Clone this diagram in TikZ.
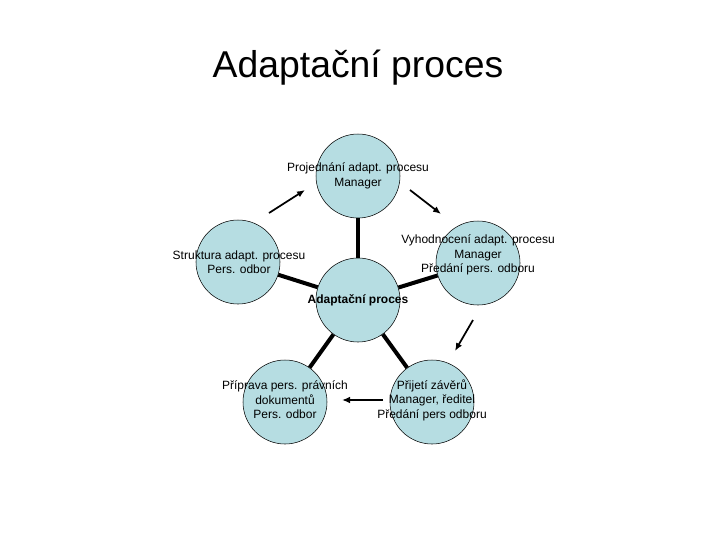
\documentclass[tikz,border=0pt]{standalone}
\usepackage{fontspec}
\setmainfont{Liberation Sans}
\begin{document}
\begin{tikzpicture}[x=0.75pt,y=-0.75pt,
  circ/.style={circle,draw=black,fill={rgb,255:red,182;green,221;blue,226},minimum size=63pt,inner sep=0pt},
  lbl/.style={align=center,font=\fontsize{9}{10.9}\selectfont,inner sep=0pt},
  spoke/.style={line width=3pt},
  arr/.style={line width=1.3pt,-{Latex[length=6pt,width=5pt]}}]
\usetikzlibrary{arrows.meta}
\useasboundingbox (0,0) rectangle (720,540);
\node[font=\fontsize{28}{30}\selectfont] (title) at (358,68) {Adaptační proces};
\node[circ] (t) at (358,176) {};
\node[circ] (l) at (238,262) {};
\node[circ] (r) at (478,263) {};
\node[circ] (bl) at (285,402) {};
\node[circ] (br) at (432,402) {};
\node[circ] (c) at (358,300) {};
\draw[spoke] (c) -- (t);
\draw[spoke] (c) -- (l);
\draw[spoke] (c) -- (r);
\draw[spoke] (c) -- (bl);
\draw[spoke] (c) -- (br);
\node[lbl] (tt) at (358,176) {Projednání adapt. procesu\\Manager};
\node[lbl] (lt) at (239,262) {Struktura adapt. procesu\\Pers. odbor};
\node[lbl] (rt) at (478,255) {Vyhodnocení adapt. procesu\\Manager\\Předání pers. odboru};
\node[lbl,font=\fontsize{9}{10.9}\selectfont\bfseries] (ct) at (358,300) {Adaptační proces};
\node[lbl] (blt) at (285,400) {Příprava pers. právních\\dokumentů\\Pers. odbor};
\node[lbl] (brt) at (432,400) {Přijetí závěrů\\Manager, ředitel\\Předání pers odboru};
\coordinate (a1s) at (269,213); \coordinate (a1e) at (305,190);
\coordinate (a2s) at (410,190); \coordinate (a2e) at (441,214);
\coordinate (a3s) at (473,320); \coordinate (a3e) at (455,351);
\coordinate (a4s) at (383,400); \coordinate (a4e) at (342,400);
\draw[arr] (a1s) -- (a1e);
\draw[arr] (a2s) -- (a2e);
\draw[arr] (a3s) -- (a3e);
\draw[arr] (a4s) -- (a4e);
\end{tikzpicture}
\end{document}
